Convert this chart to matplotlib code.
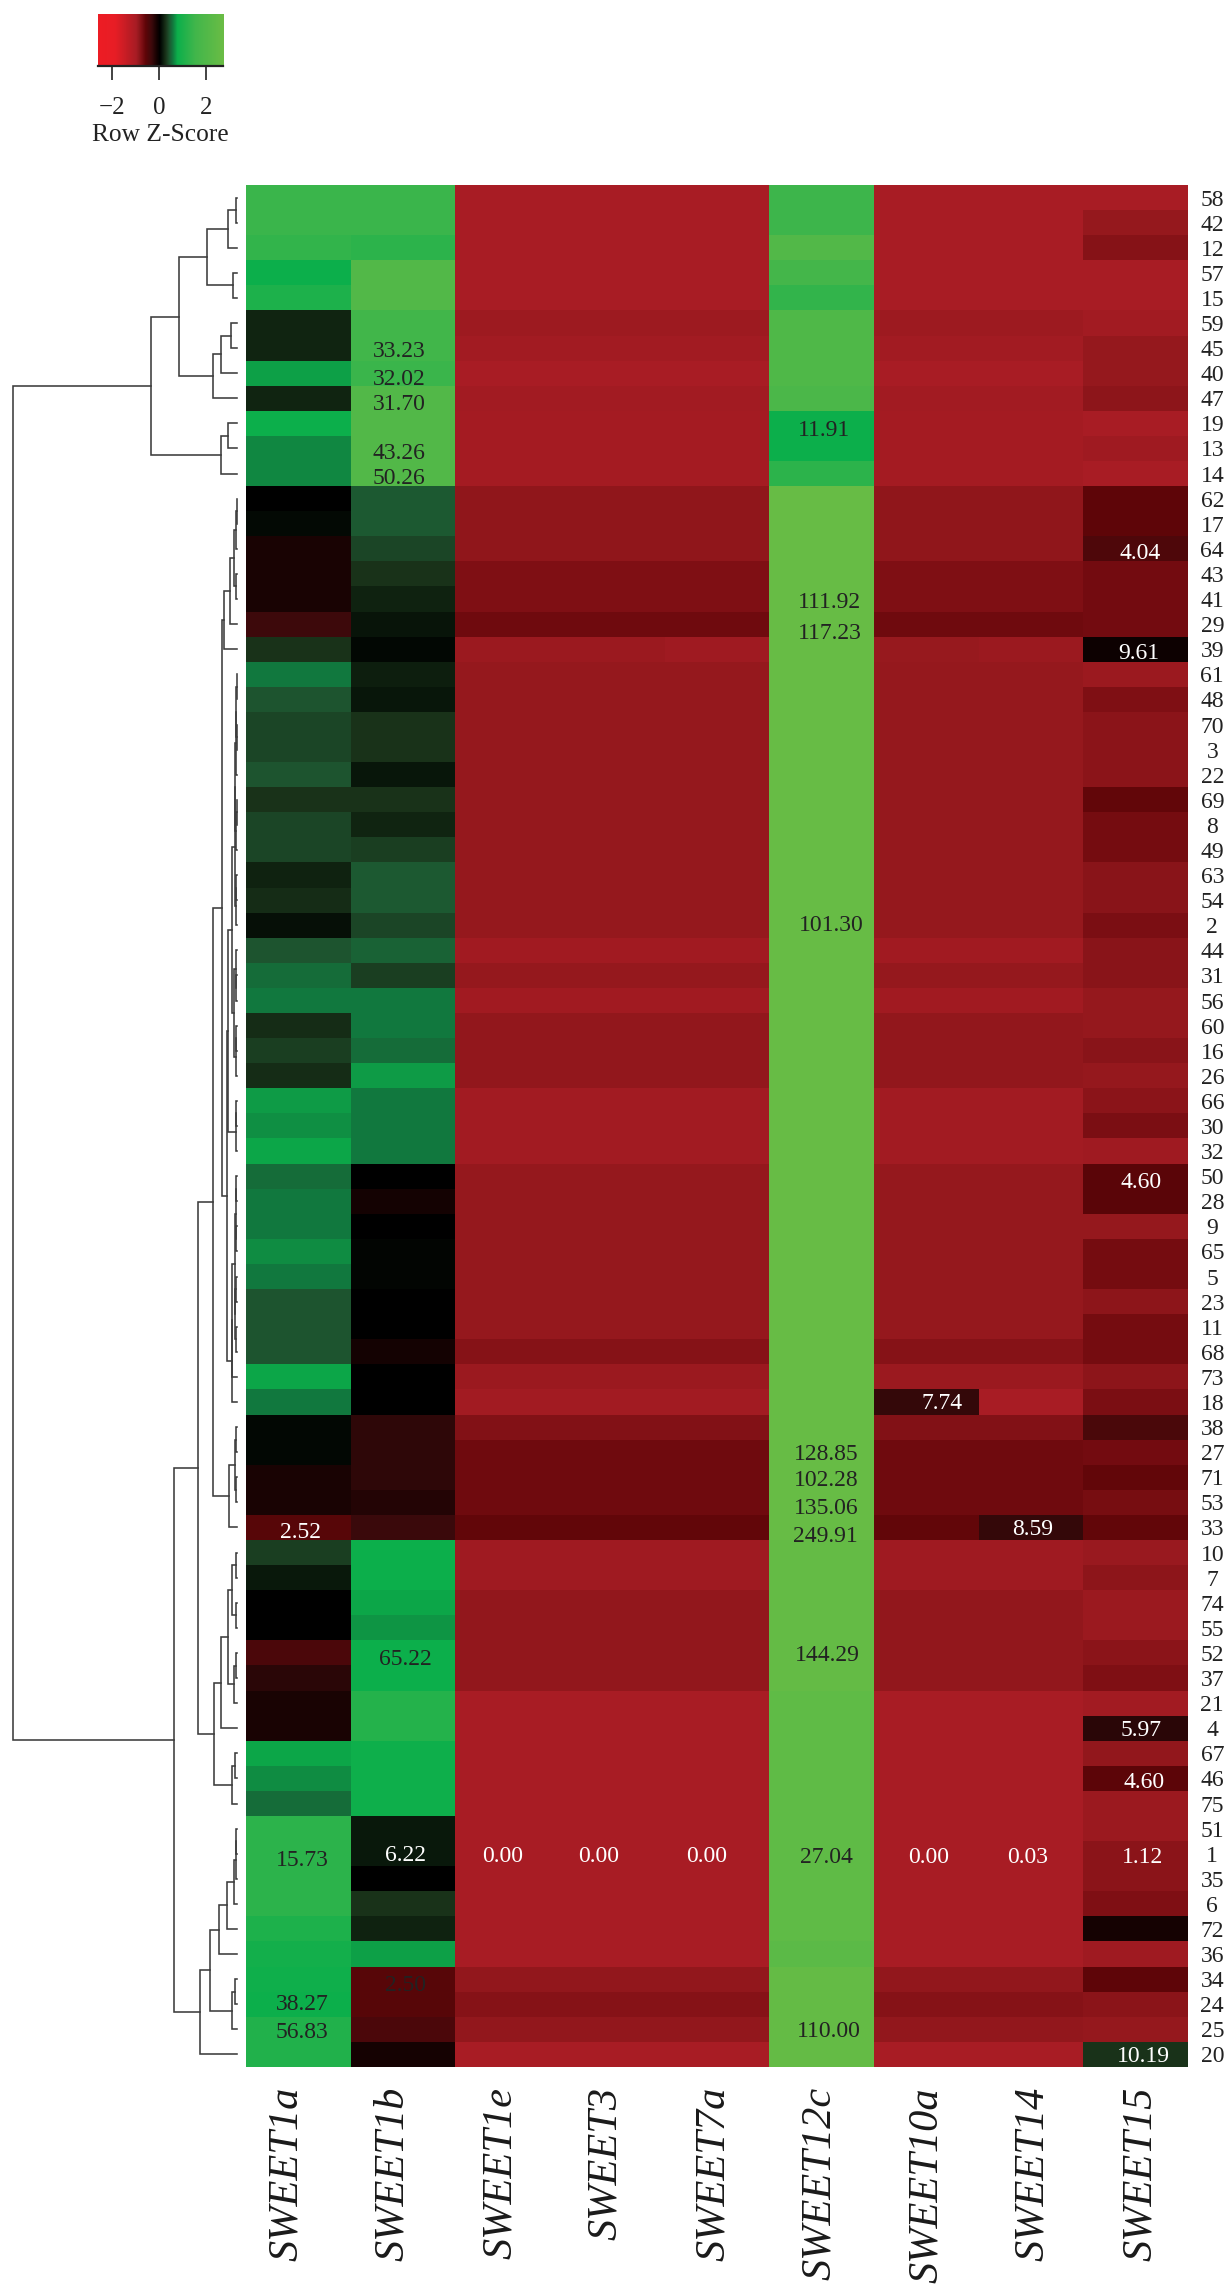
import numpy as np
import matplotlib
matplotlib.use('Agg')
import matplotlib.pyplot as plt
from matplotlib.colors import LinearSegmentedColormap

plt.rcParams['font.family'] = ['Liberation Serif', 'DejaVu Serif']

W, H = 1225, 2288

row_labels = [58, 42, 12, 57, 15, 59, 45, 40, 47, 19, 13, 14, 62, 17, 64,
              43, 41, 29, 39, 61, 48, 70, 3, 22, 69, 8, 49, 63, 54, 2,
              44, 31, 56, 60, 16, 26, 66, 30, 32, 50, 28, 9, 65, 5, 23,
              11, 68, 73, 18, 38, 27, 71, 53, 33, 10, 7, 74, 55, 52, 37,
              21, 4, 67, 46, 75, 51, 1, 35, 6, 72, 36, 34, 24, 25, 20]
genes = ['SWEET1a', 'SWEET1b', 'SWEET1e', 'SWEET3', 'SWEET7a', 'SWEET12c', 'SWEET10a', 'SWEET14', 'SWEET15']

# row z-scores, read by eye from the colours
sweet1a = [1.4, 1.4, 1.3, .75, 1.0, .18, .18, .7, .18, .75, .6, .6, 0, .04, -.15,
           -.15, -.15, -.35, .25, .55, .4, .33, .33, .4, .25, .33, .33, .17, .22, .08,
           .4, .5, .55, .22, .3, .22, .68, .63, .72, .5, .55, .55, .62, .55, .4,
           .4, .4, .72, .55, .03, .03, -.15, -.15, -.55, .3, .12, 0, 0, -.45, -.25,
           -.15, -.15, .72, .62, .5, 1.2, 1.2, 1.2, 1.2, 1.0, .85, .8, .75, 1.05, 1.05]
sweet1b = [1.4, 1.4, 1.2, 2, 2, 1.5, 1.5, 1.4, 2, 2, 2, 2, .42, .42, .33,
           .25, .17, .1, .03, .15, .11, .25, .25, .11, .25, .18, .3, .42, .42, .33,
           .46, .3, .55, .55, .5, .68, .55, .55, .55, 0, -.12, 0, .02, .02, 0,
           0, -.12, 0, 0, -.27, -.27, -.27, -.2, -.33, .75, .75, .72, .66, .75, .75,
           1.1, 1.1, .78, .78, .78, .12, .12, 0, .25, .17, .7, -.55, -.55, -.45, -.13]
sweet1e = [-1, -1, -1, -1, -1, -.94, -.97, -1, -.97, -.98, -.98, -.98, -.87, -.87, -.87,
           -.76, -.76, -.68, -.93, -.9, -.9, -.9, -.9, -.9, -.9, -.9, -.9, -.9, -.9, -.9,
           -.96, -.9, -.96, -.88, -.88, -.88, -.97, -.97, -.97, -.9, -.9, -.9, -.9, -.9, -.9,
           -.9, -.8, -.93, -.97, -.78, -.68, -.68, -.68, -.62, -.95, -.95, -.88, -.88, -.88, -.88,
           -1, -1, -1, -1, -1, -1, -1, -1, -1, -1, -1, -.88, -.8, -.88, -1]
sweet3 = [-1, -1, -1, -1, -1, -.94, -.97, -1, -.97, -.98, -.98, -.98, -.87, -.87, -.87,
          -.76, -.76, -.68, -.93, -.9, -.9, -.9, -.9, -.9, -.9, -.9, -.9, -.9, -.9, -.9,
          -.96, -.9, -.96, -.88, -.88, -.88, -.97, -.97, -.97, -.9, -.9, -.9, -.9, -.9, -.9,
          -.9, -.8, -.93, -.97, -.78, -.68, -.68, -.68, -.62, -.95, -.95, -.88, -.88, -.88, -.88,
          -1, -1, -1, -1, -1, -1, -1, -1, -1, -1, -1, -.88, -.8, -.88, -1]
sweet7a = [-1, -1, -1, -1, -1, -.94, -.97, -1, -.97, -.98, -.98, -.98, -.87, -.87, -.87,
           -.76, -.76, -.68, -.95, -.9, -.9, -.9, -.9, -.9, -.9, -.9, -.9, -.9, -.9, -.9,
           -.96, -.9, -.96, -.88, -.88, -.88, -.97, -.97, -.97, -.9, -.9, -.9, -.9, -.9, -.9,
           -.9, -.8, -.93, -.97, -.78, -.68, -.68, -.68, -.62, -.95, -.95, -.88, -.88, -.88, -.88,
           -1, -1, -1, -1, -1, -1, -1, -1, -1, -1, -1, -.88, -.8, -.88, -1]
sweet12c = [1.45, 1.45, 2.0, 1.6, 1.3, 1.9, 1.9, 1.9, 1.8, .75, .75, 1.2, 2.6, 2.6, 2.6,
            2.6, 2.6, 2.6, 2.6, 2.6, 2.6, 2.6, 2.6, 2.6, 2.6, 2.6, 2.6, 2.6, 2.6, 2.6,
            2.6, 2.6, 2.6, 2.6, 2.6, 2.6, 2.6, 2.6, 2.6, 2.6, 2.6, 2.6, 2.6, 2.6, 2.6,
            2.6, 2.6, 2.6, 2.6, 2.6, 2.6, 2.6, 2.6, 2.6, 2.5, 2.5, 2.5, 2.5, 2.5, 2.5,
            2.35, 2.35, 2.35, 2.35, 2.35, 2.35, 2.35, 2.35, 2.35, 2.35, 2.25, 2.5, 2.5, 2.5, 2.5]
sweet10a = [-1, -1, -1, -1, -1, -.94, -.97, -1, -.97, -.98, -.98, -.98, -.87, -.87, -.87,
            -.76, -.76, -.68, -.91, -.9, -.9, -.9, -.9, -.9, -.9, -.9, -.9, -.9, -.9, -.9,
            -.96, -.9, -.96, -.88, -.88, -.88, -.97, -.97, -.97, -.9, -.9, -.9, -.9, -.9, -.9,
            -.9, -.8, -.93, -.3, -.78, -.68, -.68, -.68, -.62, -.95, -.95, -.88, -.88, -.88, -.88,
            -1, -1, -1, -1, -1, -1, -1, -1, -1, -1, -1, -.88, -.8, -.88, -1]
sweet14 = [-1, -1, -1, -1, -1, -.94, -.97, -1, -.97, -.98, -.98, -.98, -.87, -.87, -.87,
           -.76, -.76, -.68, -.93, -.9, -.9, -.9, -.9, -.9, -.9, -.9, -.9, -.9, -.9, -.9,
           -.96, -.9, -.96, -.88, -.88, -.88, -.97, -.97, -.97, -.9, -.9, -.9, -.9, -.9, -.9,
           -.9, -.8, -.93, -1, -.78, -.68, -.68, -.68, -.3, -.95, -.95, -.88, -.88, -.88, -.88,
           -1, -1, -1, -1, -1, -1, -1, -1, -1, -1, -1, -.88, -.8, -.88, -1]
sweet15 = [-1, -.9, -.8, -1, -1, -.97, -.9, -.9, -.85, -1, -.95, -1, -.6, -.6, -.47,
           -.7, -.7, -.7, -.08, -.93, -.76, -.83, -.83, -.83, -.62, -.71, -.71, -.82, -.82, -.74,
           -.82, -.82, -.9, -.9, -.82, -.9, -.83, -.74, -.95, -.57, -.57, -.9, -.71, -.71, -.85,
           -.71, -.71, -.85, -.74, -.44, -.7, -.62, -.72, -.62, -.92, -.85, -.93, -.93, -.83, -.76,
           -.97, -.25, -.88, -.58, -.93, -.93, -.83, -.83, -.76, -.13, -.95, -.6, -.84, -.9, .25]

# cell annotations
ann_rows = [6, 7, 8, 10, 11, 9, 14, 16, 17, 18, 29, 39, 48, 50, 51, 52, 53, 53, 53,
            58, 58, 61, 63, 66, 66, 66, 66, 66, 66, 66, 66, 66, 71, 72, 73, 73, 74]
ann_cols = [1, 1, 1, 1, 1, 5, 8, 5, 5, 8, 5, 8, 6, 5, 5, 5, 5, 7, 0,
            1, 5, 8, 8, 0, 1, 2, 3, 4, 5, 6, 7, 8, 1, 0, 0, 5, 8]
ann_text = ['33.23', '32.02', '31.70', '43.26', '50.26', '11.91', '4.04', '111.92', '117.23', '9.61',
            '101.30', '4.60', '7.74', '128.85', '102.28', '135.06', '249.91', '8.59', '2.52',
            '65.22', '144.29', '5.97', '4.60', '15.73', '6.22', '0.00', '0.00', '0.00', '27.04',
            '0.00', '0.03', '1.12', '2.50', '38.27', '56.83', '110.00', '10.19']
ann_white = ['4.04', '9.61', '4.60', '7.74', '8.59', '2.52', '5.97', '6.22', '0.00', '0.03', '1.12', '10.19']
# nudges from the cell centre, pixels
ann_dx = [-4, -4, -4, -4, -4, 2, 4, 8, 8, 3, 10, 5, 16, 5, 5, 5, 4, 2, 2,
          2, 6, 5, 8, 4, 2, -5, -14, -10, 5, 2, -3, 7, 2, 4, 4, 7, 8]
ann_dy = [-1, -4, -4, -3, -2, -5, -2, -1, -7, -2, 2, -4, 1, 0, -1, -4, -7, 0, -3,
          -4, 0, 0, -2, -4, 1, 0, 0, 0, -1, -1, -1, -1, -4, 2, -1, 0, 0]

label_x = [0.392, 1.404, 2.433, 3.44, 4.47, 5.48, 6.5, 7.52, 8.55]

# dendrogram merges as (height, upper, lower), leaves are row positions
g_0_2 = (9, (1, 0, 1), 2)
g_0_4 = (30, g_0_2, (4, 3, 4))
g_5_8 = (24, (16, (6, 5, 6), 7), 8)
g_9_11 = (16, (9, 9, 10), 11)
g_top = (86, (58, g_0_4, g_5_8), g_9_11)

g_12_18 = (13, (7, (3, (1, (.5, 12, 13), 14), (1, 15, 16)), 17), 18)
g_19_29 = (2.2, (1.6, (1.2, (.6, (.4, 19, 20), (.4, 21, 22)), 23), (.8, (.4, 24, 25), 26)), (1.4, (.8, 27, 28), 29))
g_30_35 = (2.6, (1.2, 30, (.8, 31, 32)), (1.4, (.6, 33, 34), 35))
g_36_38 = (1, (.6, 36, 37), 38)
g_39_46 = (2.4, (1.2, (.6, 39, 40), (.8, 41, 42)), (1.6, (.8, 43, 44), (.6, 45, 46)))
g_19_38 = (9, (5, g_19_29, g_30_35), g_36_38)
g_39_48 = (5.2, (4.8, g_39_46, 47), 48)
g_49_53 = (8, (2, (1, 49, 50), (1, 51, 52)), 53)
g_54_61 = (16, (9, (5, (1, 54, 55), (1, 56, 57)), (3, (1.5, 58, 59), 60)), 61)
g_62_64 = (5, (2, 62, 63), 64)
g_65_74 = (27, (18, (10, (3, (1.5, (1, 65, 66), 67), 68), 69), 70), (5, (2, 71, 72), 73))

g_12_48 = (15, g_12_18, (10, g_19_38, g_39_48))
g_12_64 = (39, (24, g_12_48, g_49_53), (23, g_54_61, g_62_64))
g_bottom = (63, g_12_64, (37, g_65_74, 74))
tree = (224, g_top, g_bottom)

colour_z = [-2.6, -1.9, -1.0, -.9, -.75, -.6, -.35, -.15, 0, .12, .25, .4, .55, .75, 1.5, 2.7]
colour_rgb = [(237, 28, 36), (232, 30, 38), (168, 28, 36), (150, 25, 30), (125, 15, 20), (95, 5, 8),
              (62, 10, 12), (25, 3, 3), (0, 0, 0), (10, 25, 12), (25, 50, 25), (30, 85, 48),
              (18, 120, 62), (12, 175, 75), (65, 182, 75), (107, 189, 69)]
zmin, zmax = colour_z[0], colour_z[-1]
cmap = LinearSegmentedColormap.from_list(
    'rowz', [((z - zmin) / (zmax - zmin), tuple(c / 255 for c in rgb)) for z, rgb in zip(colour_z, colour_rgb)], N=512)


def draw_tree(ax, node):
    if not isinstance(node, tuple):
        return 0.0, node
    h, a, b = node
    ha, ya = draw_tree(ax, a)
    hb, yb = draw_tree(ax, b)
    ax.plot([ha, h, h, hb], [ya, ya, yb, yb], color='#3c3c3c', lw=1.15, solid_joinstyle='miter')
    return h, (ya + yb) / 2


def axes_px(x0, y0, x1, y1):
    return fig.add_axes([x0 / W, 1 - y1 / H, (x1 - x0) / W, (y1 - y0) / H])


fig = plt.figure(figsize=(W / 100, H / 100), dpi=100)

# heatmap
matrix = np.array([sweet1a, sweet1b, sweet1e, sweet3, sweet7a, sweet12c, sweet10a, sweet14, sweet15]).T
ax = axes_px(246, 185, 1188, 2067)
ax.imshow(matrix, cmap=cmap, vmin=zmin, vmax=zmax, aspect='auto', interpolation='nearest')
ax.set_xticks([])
ax.set_yticks(range(len(row_labels)))
ax.set_yticklabels(row_labels, fontsize=17, color='#222222')
ax.yaxis.tick_right()
ax.tick_params(axis='y', length=0, pad=17.5)
for lab in ax.get_yticklabels():
    lab.set_ha('center')
for s in ax.spines.values():
    s.set_visible(False)

for r, c, t, dx, dy in zip(ann_rows, ann_cols, ann_text, ann_dx, ann_dy):
    col = 'white' if t in ann_white else '#222222'
    ax.annotate(t, (c, r), xytext=(dx, dy), textcoords='offset pixels', ha='center', va='center_baseline',
                fontsize=17, color=col)

for i, g in enumerate(genes):
    ax.text(label_x[i] - 0.5, 75.3, g, rotation=90, ha='center', va='top', style='italic',
            fontsize=30.5, color='#1a1a1a')

# dendrogram
dax = axes_px(0, 185, 246, 2067)
draw_tree(dax, tree)
dax.set_xlim(237, -9)
dax.set_ylim(74.5, -0.5)
dax.axis('off')

# colour key
kax = axes_px(98, 13.5, 223, 66)
kax.imshow(np.linspace(zmin, zmax, 400)[None, :], cmap=cmap, vmin=zmin, vmax=zmax, aspect='auto',
           extent=(zmin, zmax, 0, 1))
kax.set_yticks([])
kax.set_xticks([-2, 0, 2])
kax.set_xticklabels(['\u22122', '0', '2'], fontsize=18, color='#222222')
kax.tick_params(axis='x', length=10, width=1.2, color='#222222', pad=12)
for side in ['top', 'left', 'right']:
    kax.spines[side].set_visible(False)
kax.spines['bottom'].set_linewidth(1.6)
kax.spines['bottom'].set_color('#222222')
kax.set_xlabel('Row Z-Score', fontsize=18.3, color='#222222', labelpad=4)

fig.savefig('out.png', dpi=100)
